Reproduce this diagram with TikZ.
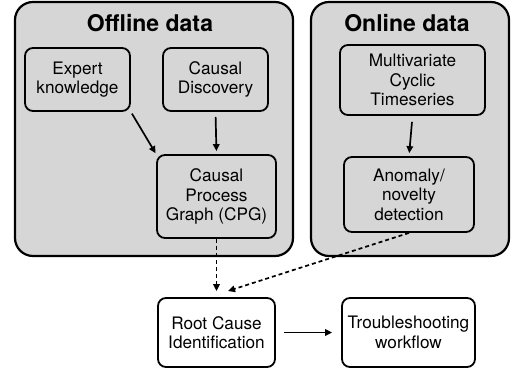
\documentclass[tikz,border=0pt]{standalone}
\usepackage{fontspec}
\setmainfont{TeX Gyre Heros}
\usetikzlibrary{arrows.meta}
\definecolor{panelgray}{HTML}{D6D6D6}
\tikzset{
  panel/.style={draw=black, line width=2.2pt, fill=panelgray, rounded corners=18pt, inner sep=0pt},
  innerbox/.style={draw=black, line width=1.8pt, rounded corners=8pt, align=center, inner sep=0pt,
    font=\fontsize{17.2}{19.5}\selectfont},
  wbox/.style={innerbox, fill=white},
  title/.style={font=\fontsize{23}{28}\selectfont\bfseries, inner sep=0pt},
  arr/.style={line width=1.7pt, -{Triangle[length=7pt,width=6.5pt]}},
  darr/.style={arr, dash pattern=on 4pt off 3pt}
}
\begin{document}
\begin{tikzpicture}[x=1pt,y=-1pt]
\useasboundingbox (0,0) rectangle (511,374);
% panels
\node[panel, minimum width=278pt, minimum height=254pt] (off) at (154,129) {};
\node[panel, minimum width=198pt, minimum height=254pt] (on) at (410,129) {};
\node[title] (offt) at (150,23) {Offline data};
\node[title] (ont) at (407,23) {Online data};
% offline boxes
\node[innerbox, minimum width=105pt, minimum height=63pt] (exp) at (77.5,79.5) {Expert\\knowledge};
\node[innerbox, minimum width=105pt, minimum height=63pt] (cd) at (215.5,79.5) {Causal\\Discovery};
\node[innerbox, minimum width=119pt, minimum height=83pt] (cpg) at (216.5,196.5) {Causal\\Process\\Graph (CPG)};
% online boxes
\node[innerbox, minimum width=145pt, minimum height=70pt] (mct) at (412.5,80) {Multivariate\\Cyclic\\Timeseries};
\node[innerbox, minimum width=130pt, minimum height=75pt] (anom) at (409,194.5) {Anomaly/\\novelty\\detection};
% bottom boxes
\node[wbox, minimum width=117pt, minimum height=69pt] (rc) at (216.5,332.5) {Root Cause\\Identification};
\node[wbox, minimum width=133pt, minimum height=69pt] (ts) at (408.5,332.5) {Troubleshooting\\workflow};
% connectors
\draw[arr, shorten <=2pt, shorten >=1pt] (exp.south east) -- (cpg.north west);
\draw[arr, shorten <=5pt, shorten >=3pt] (cd.south) -- (cpg.north);
\draw[arr, shorten <=6pt, shorten >=3pt] (mct.south) -- (anom.north);
\coordinate (rcin) at (228,291);
\draw[darr, shorten >=6pt] (cpg.south) -- (rc.north);
\draw[darr] (anom.south) -- (rcin);
\draw[arr, shorten <=8pt, shorten >=9pt] (rc.east) -- (ts.west);
\end{tikzpicture}
\end{document}
